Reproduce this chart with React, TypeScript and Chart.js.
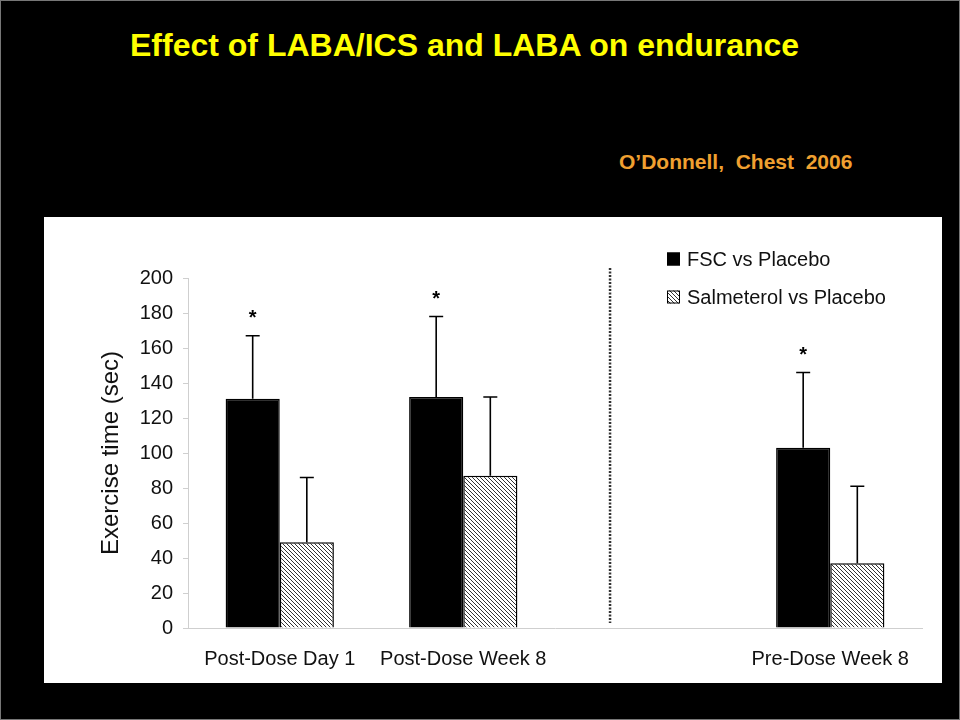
import React, { useEffect, useRef } from "react";
import { Chart, registerables } from "chart.js";

Chart.register(...registerables);

const TITLE = "Effect of LABA/ICS and LABA on endurance";
const SOURCE = "O\u2019Donnell,  Chest  2006";

const categories = ["Post-Dose Day 1", "Post-Dose Week 8", "", "Pre-Dose Week 8"];
const fscValues = [131, 132, null, 103];
const fscErrors = [36, 46, null, 43];
const salValues = [49, 87, null, 37];
const salErrors = [37, 45, null, 44];
const significant = [true, true, false, true];
const seriesLabels = ["FSC vs Placebo", "Salmeterol vs Placebo"];
const yTicks = [0, 20, 40, 60, 80, 100, 120, 140, 160, 180, 200];
const dividerPosition = 1.8; // between categories, in category-index units

const FONT = "'Liberation Sans', Arial, Helvetica, sans-serif";

function makeHatch(): CanvasPattern | string {
  const c = document.createElement("canvas");
  c.width = 4;
  c.height = 4;
  const g = c.getContext("2d");
  if (!g) return "#888";
  g.fillStyle = "#ffffff";
  g.fillRect(0, 0, 4, 4);
  g.strokeStyle = "#333333";
  g.lineWidth = 1;
  g.beginPath();
  g.moveTo(-1, -1);
  g.lineTo(5, 5);
  g.moveTo(-1, 3);
  g.lineTo(1, 5);
  g.moveTo(3, -1);
  g.lineTo(5, 1);
  g.stroke();
  return g.createPattern(c, "repeat") || "#888";
}

export default function App() {
  const canvasRef = useRef<HTMLCanvasElement | null>(null);

  useEffect(() => {
    const canvas = canvasRef.current;
    if (!canvas) return;
    const hatch = makeHatch();
    const errorSets = [fscErrors, salErrors];

    const extrasPlugin = {
      id: "extras",
      afterDatasetsDraw(chart: any) {
        const ctx = chart.ctx as CanvasRenderingContext2D;
        const yScale = chart.scales.y;
        const xScale = chart.scales.x;
        const area = chart.chartArea;
        ctx.save();
        // error bars
        chart.data.datasets.forEach((ds: any, di: number) => {
          const meta = chart.getDatasetMeta(di);
          meta.data.forEach((bar: any, i: number) => {
            const v = ds.data[i];
            const e = errorSets[di][i];
            if (v == null || e == null) return;
            const top = yScale.getPixelForValue(v + e);
            ctx.strokeStyle = "#000";
            ctx.lineWidth = 1.6;
            ctx.beginPath();
            ctx.moveTo(bar.x, bar.y);
            ctx.lineTo(bar.x, top);
            ctx.moveTo(bar.x - 7, top);
            ctx.lineTo(bar.x + 7, top);
            ctx.stroke();
            if (di === 0 && significant[i]) {
              ctx.fillStyle = "#000";
              ctx.font = `bold 20px ${FONT}`;
              ctx.textAlign = "center";
              ctx.textBaseline = "alphabetic";
              ctx.fillText("*", bar.x, top - 12);
            }
          });
        });
        // dotted divider
        const p1 = xScale.getPixelForValue(1);
        const p2 = xScale.getPixelForValue(2);
        const dx = p1 + (dividerPosition - 1) * (p2 - p1);
        ctx.strokeStyle = "#333";
        ctx.lineWidth = 2.5;
        ctx.setLineDash([2, 1.5]);
        ctx.beginPath();
        ctx.moveTo(dx, area.top - 10);
        ctx.lineTo(dx, area.bottom - 5);
        ctx.stroke();
        ctx.setLineDash([]);
        // legend
        const lx = area.right - 255;
        const rows = [area.top - 19, area.top + 19];
        const fills = ["#000", hatch];
        rows.forEach((cy, k) => {
          ctx.fillStyle = fills[k] as any;
          ctx.fillRect(lx, cy - 6.5, 13, 13);
          ctx.strokeStyle = "#000";
          ctx.lineWidth = 1;
          ctx.strokeRect(lx + 0.5, cy - 6, 12, 12);
          ctx.fillStyle = "#111";
          ctx.font = `20px ${FONT}`;
          ctx.textAlign = "left";
          ctx.textBaseline = "middle";
          ctx.fillText(seriesLabels[k], lx + 20, cy + 1);
        });
        ctx.restore();
      },
    };

    const chart = new Chart(canvas, {
      type: "bar",
      data: {
        labels: categories,
        datasets: [
          {
            label: seriesLabels[0],
            data: fscValues as any,
            backgroundColor: "#000",
            borderColor: "#000",
            borderWidth: 1.5,
            categoryPercentage: 0.59,
            barPercentage: 1.0,
          },
          {
            label: seriesLabels[1],
            data: salValues as any,
            backgroundColor: hatch as any,
            borderColor: "#000",
            borderWidth: 1.5,
            categoryPercentage: 0.59,
            barPercentage: 1.0,
          },
        ],
      },
      options: {
        responsive: false,
        animation: false,
        layout: { padding: { left: 51, top: 61, right: 20, bottom: 0 } },
        plugins: {
          legend: { display: false },
          tooltip: { enabled: false },
          title: { display: false },
        },
        scales: {
          x: {
            grid: { display: false, drawTicks: false },
            border: { display: true, color: "#cfcfcf", width: 1 },
            ticks: {
              color: "#111",
              font: { family: FONT, size: 20 },
              padding: 19,
              maxRotation: 0,
              autoSkip: false,
            },
            afterFit: (s: any) => {
              s.height = 55;
            },
          },
          y: {
            min: 0,
            max: 200,
            afterBuildTicks: (s: any) => {
              s.ticks = yTicks.map((v) => ({ value: v }));
            },
            grid: {
              display: true,
              drawOnChartArea: false,
              drawTicks: true,
              tickLength: 5,
              color: "#cfcfcf",
            },
            border: { display: true, color: "#cfcfcf", width: 1 },
            ticks: {
              color: "#111",
              font: { family: FONT, size: 20 },
              padding: 10,
            },
            title: {
              display: true,
              text: "Exercise time (sec)",
              color: "#111",
              font: { family: FONT, size: 24 },
              padding: { top: 2, bottom: 0 },
            },
            afterFit: (s: any) => {
              s.width = 93;
            },
          },
        },
      },
      plugins: [extrasPlugin],
    });
    return () => chart.destroy();
  }, []);

  return (
    <div
      style={{
        position: "fixed",
        left: 0,
        top: 0,
        width: 960,
        height: 720,
        background: "#000",
        boxSizing: "border-box",
        border: "1px solid #777",
        overflow: "hidden",
      }}
    >
      <div
        style={{
          position: "absolute",
          left: 129,
          top: 28,
          color: "#FFFF00",
          fontFamily: FONT,
          fontWeight: "bold",
          fontSize: 32,
          lineHeight: "32px",
          whiteSpace: "pre",
        }}
      >
        {TITLE}
      </div>
      <div
        style={{
          position: "absolute",
          left: 618,
          top: 150,
          color: "#F0A030",
          fontFamily: FONT,
          fontWeight: "bold",
          fontSize: 21,
          lineHeight: "21px",
          whiteSpace: "pre",
        }}
      >
        {SOURCE}
      </div>
      <div
        style={{
          position: "absolute",
          left: 43,
          top: 216,
          width: 898,
          height: 466,
          background: "#fff",
        }}
      >
        <canvas ref={canvasRef} width={898} height={466} style={{ display: "block" }} />
      </div>
    </div>
  );
}
